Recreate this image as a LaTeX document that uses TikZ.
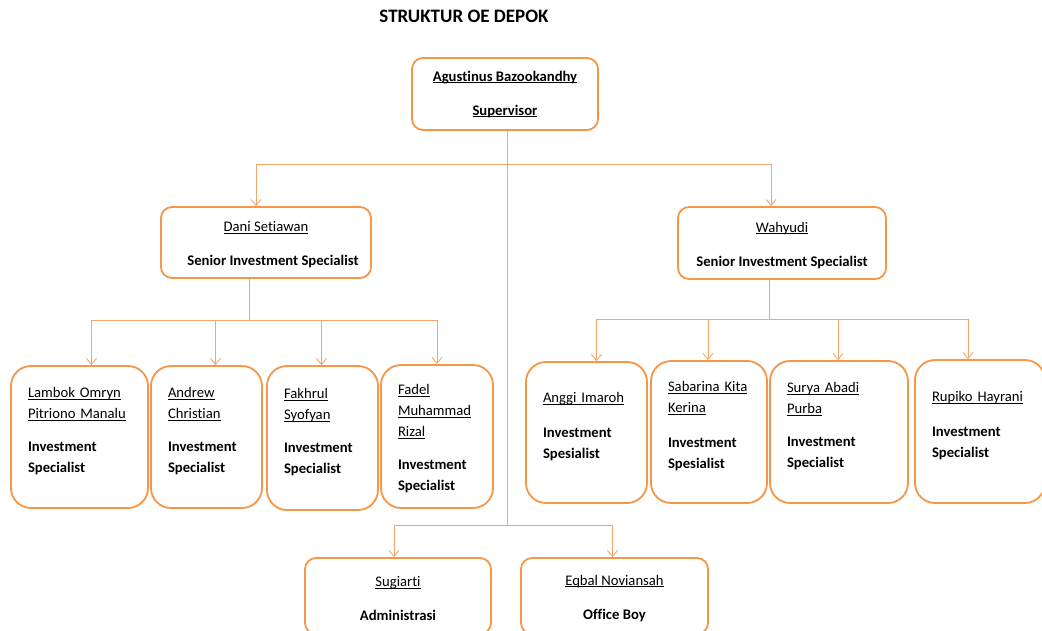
\documentclass[tikz,border=0pt]{standalone}
\usepackage{fontspec}
\setmainfont{Carlito}[Ligatures=NoCommon]
\usetikzlibrary{arrows.meta,positioning,calc}
\definecolor{boxorange}{HTML}{F79646}
\definecolor{lineorange}{HTML}{F6A66C}
\newcommand{\ulname}[1]{\underline{\smash{#1}}\strut}
\newcommand{\liftup}{\\[-3pt]\mbox{}}

\begin{document}
\begin{tikzpicture}[x=1pt, y=-1pt,
        >={Straight Barb[length=6pt,width=10pt]},
        every node/.style = {font=\fontsize{14.67}{21}\selectfont},
        head/.style = {draw=boxorange, line width=1.8pt, rounded corners=11pt, fill=white,
                align=center, minimum height=72pt},
        staff/.style = {draw=boxorange, line width=1.8pt, rounded corners=20pt, fill=white,
                align=left, inner xsep=17pt, text width=#1, minimum height=142pt},
        link/.style = {draw=lineorange, line width=0.9pt},
    ]
    \clip (0,0) rectangle (1042,630);

    \node[font=\fontsize{19}{22}\selectfont\bfseries] (title) at (464,16) {STRUKTUR OE DEPOK};

    % supervisor and seniors
    \node[head, minimum width=186pt] (sup) at (505,94)
        {\textbf{\ulname{Agustinus Bazookandhy}}\\[13pt]\textbf{\ulname{Supervisor}}};
    \node[head, minimum width=210pt, minimum height=71pt] (dani) at (266,242.5)
        {\ulname{Dani Setiawan}\\[13pt]\hspace*{14pt}\textbf{Senior Investment Specialist}};
    \node[head, minimum width=208pt] (wahyudi) at (782,243)
        {\ulname{Wahyudi}\\[13pt]\textbf{Senior Investment Specialist}};

    % investment specialists
    \node[staff=103pt] (lambok) at (79.5,437)
        {\ulname{Lambok Omryn}\\\ulname{Pitriono Manalu}\\[12pt]\textbf{Investment}\\\textbf{Specialist}\liftup};
    \node[staff=77pt] (andrew) at (206.5,437)
        {\ulname{Andrew}\\\ulname{Christian}\\[12pt]\textbf{Investment}\\\textbf{Specialist}\liftup};
    \node[staff=77pt, minimum height=144pt] (fakhrul) at (322.5,438)
        {\ulname{Fakhrul}\\\ulname{Syofyan}\\[12pt]\textbf{Investment}\\\textbf{Specialist}\liftup};
    \node[staff=78pt, minimum height=143pt] (fadel) at (437,436.5)
        {\ulname{Fadel}\\\ulname{Muhammad}\\\ulname{Rizal}\\[12pt]\textbf{Investment}\\\textbf{Specialist}};
    \node[staff=87pt, minimum height=141pt] (anggi) at (586.5,432.5)
        {\ulname{Anggi Imaroh}\\[14pt]\textbf{Investment}\\\textbf{Spesialist}\liftup};
    \node[staff=82pt] (sabarina) at (709,432)
        {\ulname{Sabarina Kita}\\\ulname{Kerina}\\[14pt]\textbf{Investment}\\\textbf{Spesialist}\liftup};
    \node[staff=104pt] (surya) at (839,432)
        {\ulname{Surya Abadi}\\\ulname{Purba}\\[12pt]\textbf{Investment}\\\textbf{Specialist}\liftup};
    \node[staff=96pt, minimum height=143pt] (rupiko) at (980,431.5)
        {\ulname{Rupiko Hayrani}\\[14pt]\textbf{Investment}\\\textbf{Specialist}\liftup};

    % staff
    \node[head, minimum width=186pt, minimum height=76pt] (sugiarti) at (398,596)
        {\ulname{Sugiarti}\\[13pt]\textbf{Administrasi}};
    \node[head, minimum width=187pt, minimum height=76pt] (eqbal) at (614.5,596)
        {\ulname{Eqbal Noviansah}\\[13pt]\textbf{Office Boy}};

    % connectors
    \draw[link] ([xshift=2pt]sup.south) -- ++(0,395) coordinate (j2);
    \path ([xshift=2pt]sup.south) ++(0,34) coordinate (j1);
    \draw[link,->] (j1) -| ([xshift=-10pt]dani.north);
    \draw[link,->] (j1) -| ([xshift=-11pt]wahyudi.north);
    \draw[link,->] (j2) -| ([xshift=-4pt]sugiarti.north);
    \draw[link,->] (j2) -| ([xshift=-2pt]eqbal.north);

    \draw[link] ([xshift=-17pt]dani.south) -- ++(0,42) coordinate (j3);
    \foreach \n/\s in {lambok/12, andrew/9, fakhrul/-1, fadel/0}
        \draw[link,->] (j3) -| ([xshift=\s pt]\n.north);

    \draw[link] ([xshift=-13pt]wahyudi.south) -- ++(0,40) coordinate (j4);
    \foreach \n/\s in {anggi/10, sabarina/-1, surya/-1, rupiko/-12}
        \draw[link,->] (j4) -| ([xshift=\s pt]\n.north);
\end{tikzpicture}
\end{document}
